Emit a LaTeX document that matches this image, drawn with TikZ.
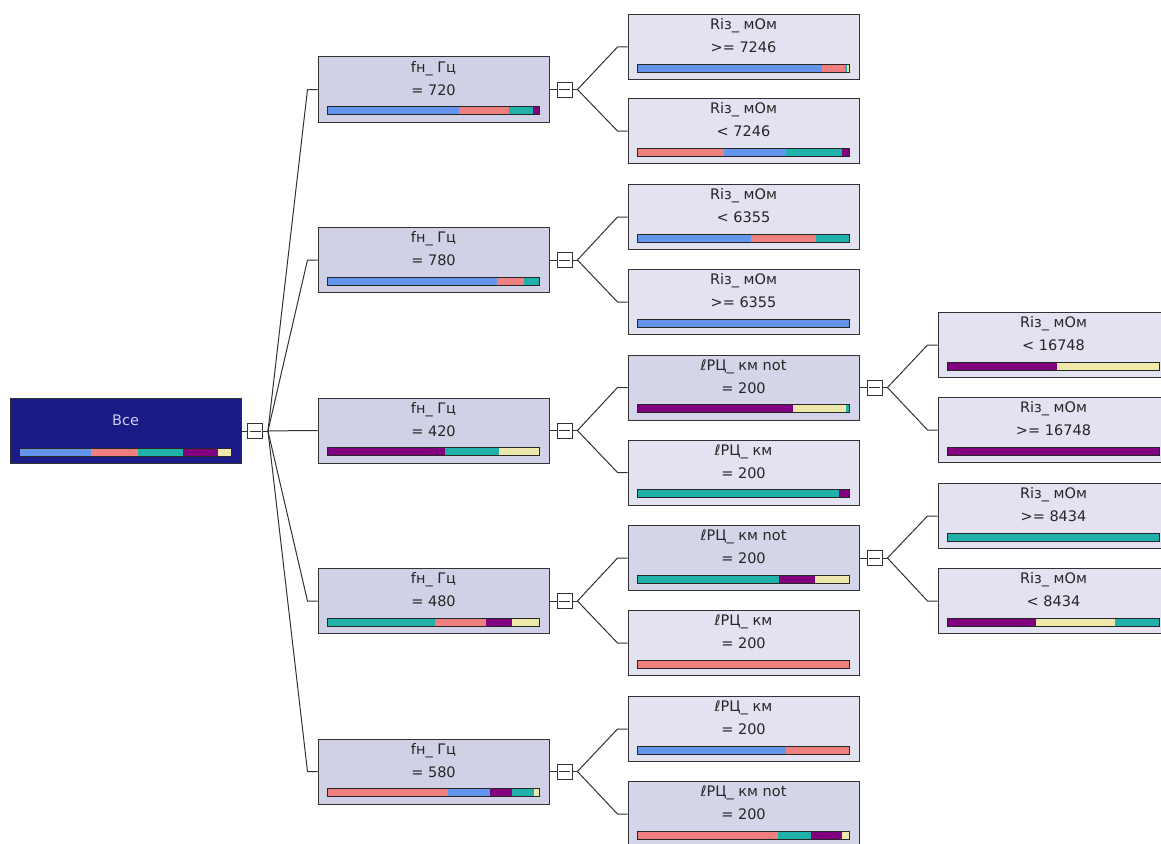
\documentclass[tikz,border=0pt]{standalone}
\usepackage{fontspec}
\setmainfont{DejaVu Sans}
\usepackage{tikz}
\usetikzlibrary{positioning}
\usetikzlibrary{calc}

\definecolor{rootfill}{RGB}{27,27,135}
\definecolor{splitfill}{RGB}{208,208,231}
\definecolor{midfill}{RGB}{213,213,234}
\definecolor{leaffill}{RGB}{226,226,241}
\definecolor{cblue}{RGB}{100,149,237}
\definecolor{csalmon}{RGB}{240,128,128}
\definecolor{cteal}{RGB}{32,178,170}
\definecolor{cpurple}{RGB}{128,0,128}
\definecolor{cyellow}{RGB}{238,232,170}
\definecolor{edgegray}{RGB}{50,50,50}

\tikzset{box/.style = {draw = edgegray, line width = 1pt, minimum width = 231pt, minimum height = 65pt, inner sep = 0}}
\tikzset{toggle/.style = {draw = edgegray, fill = white, line width = 0.9pt, minimum size = 15pt, inner sep = 0,
    path picture = {\draw [edgegray, line width = 0.9pt] ([xshift = 2pt]path picture bounding box.west) -- ([xshift = -2pt]path picture bounding box.east);}}}
\tikzset{link/.style = {draw = edgegray, line width = 1pt}}
\tikzset{barframe/.style = {draw = black!85, line width = 0.9pt}}
\tikzset{txt/.style = {inner sep = 0, text = black!85}}

% name, fill, centre, first line, second line, bar segments colour/from/to
\newcommand{\treenode}[6]{%
  \node [box, fill = #2] (#1) at (#3) {};
  \node [txt] (#1-a) at ([yshift = -12pt]#1.north) {#4};
  \node [txt] (#1-b) at ([yshift = -33.5pt]#1.north) {#5};
  \foreach \col/\from/\upto in {#6}
    \fill [\col] ([xshift = {10pt+2.11pt*\from}, yshift = 8pt]#1.south west)
      rectangle ([xshift = {10pt+2.11pt*\upto}, yshift = 16pt]#1.south west);
  \draw [barframe] ([xshift = 10pt, yshift = 8pt]#1.south west) rectangle ([xshift = -10pt, yshift = 16pt]#1.south east);
}
% toggle, fan point, children
\newcommand{\fanout}[3]{%
  \coordinate (#2) at ([xshift = 5pt]#1.east);
  \draw [link] (#1) -- (#2);
  \foreach \c in {#3}
    \draw [link] (#2) -- ([xshift = -10pt]\c.west) -- (\c.west);
}

\begin{document}
\begin{tikzpicture}[x = 1pt, y = -1pt, font = \fontsize{14.5}{17}\selectfont]
      \clip (0, 0) rectangle (1161, 843);
      \fill [white] (0, 0) rectangle (1161, 843);

      % root
      \node [box, fill = rootfill] (root) at (125.5, 431) {};
      \node [txt, text = {rgb,255:red,205;green,205;blue,240}] (root-a) at ([yshift = -22.5pt]root.north) {Все};
      \foreach \col/\from/\upto in {cblue/0/34, csalmon/34/56, cteal/56/77.5, cpurple/77.5/94, cyellow/94/100}
        \fill [\col] ([xshift = {10pt+2.11pt*\from}, yshift = 8pt]root.south west)
          rectangle ([xshift = {10pt+2.11pt*\upto}, yshift = 16pt]root.south west);
      \draw [barframe] ([xshift = 10pt, yshift = 8pt]root.south west) rectangle ([xshift = -10pt, yshift = 16pt]root.south east);

      % first split
      \treenode{f720}{splitfill}{433.5, 89.5}{fн\_ Гц}{= 720}{cblue/0/62.5, csalmon/62.5/86, cteal/86/97.5, cpurple/97.5/100}
      \treenode{f780}{splitfill}{433.5, 260}{fн\_ Гц}{= 780}{cblue/0/80.5, csalmon/80.5/93, cteal/93/100}
      \treenode{f420}{splitfill}{433.5, 430.5}{fн\_ Гц}{= 420}{cpurple/0/55.5, cteal/55.5/81.5, cyellow/81.5/100}
      \treenode{f480}{splitfill}{433.5, 601}{fн\_ Гц}{= 480}{cteal/0/51, csalmon/51/75, cpurple/75/87.5, cyellow/87.5/100}
      \treenode{f580}{splitfill}{433.5, 771.5}{fн\_ Гц}{= 580}{csalmon/0/57, cblue/57/77, cpurple/77/87.5, cteal/87.5/98, cyellow/98/100}

      % second split
      \treenode{r7246hi}{leaffill}{743.5, 47}{Rіз\_ мОм}{>= 7246}{cblue/0/87.5, csalmon/87.5/98.5, cteal/98.5/99.3, cyellow/99.3/100}
      \treenode{r7246lo}{leaffill}{743.5, 131}{Rіз\_ мОм}{< 7246}{csalmon/0/41, cblue/41/70.5, cteal/70.5/97, cpurple/97/100}
      \treenode{r6355lo}{leaffill}{743.5, 217}{Rіз\_ мОм}{< 6355}{cblue/0/54, csalmon/54/84.5, cteal/84.5/100}
      \treenode{r6355hi}{leaffill}{743.5, 302}{Rіз\_ мОм}{>= 6355}{cblue/0/100}
      \treenode{l420not}{midfill}{743.5, 387.5}{ℓРЦ\_ км not}{= 200}{cpurple/0/73.5, cyellow/73.5/99, cteal/99/100}
      \treenode{l420eq}{leaffill}{743.5, 472.5}{ℓРЦ\_ км}{= 200}{cteal/0/95.5, cpurple/95.5/100}
      \treenode{l480not}{midfill}{743.5, 558}{ℓРЦ\_ км not}{= 200}{cteal/0/67, cpurple/67/84, cyellow/84/100}
      \treenode{l480eq}{leaffill}{743.5, 643}{ℓРЦ\_ км}{= 200}{csalmon/0/100}
      \treenode{l580eq}{leaffill}{743.5, 729}{ℓРЦ\_ км}{= 200}{cblue/0/70.5, csalmon/70.5/100}
      \treenode{l580not}{midfill}{743.5, 814}{ℓРЦ\_ км not}{= 200}{csalmon/0/66.5, cteal/66.5/82, cpurple/82/97, cyellow/97/100}

      % third split
      \treenode{r16748lo}{leaffill}{1053.5, 345}{Rіз\_ мОм}{< 16748}{cpurple/0/52, cyellow/52/100}
      \treenode{r16748hi}{leaffill}{1053.5, 430}{Rіз\_ мОм}{>= 16748}{cpurple/0/100}
      \treenode{r8434hi}{leaffill}{1053.5, 516}{Rіз\_ мОм}{>= 8434}{cteal/0/100}
      \treenode{r8434lo}{leaffill}{1053.5, 601}{Rіз\_ мОм}{< 8434}{cpurple/0/42, cyellow/42/79.5, cteal/79.5/100}

      % toggles and connectors
      \node [toggle] (t-root) at (255, 431) {};
      \draw [link] (root) -- (t-root);
      \fanout{t-root}{fan-root}{f720, f780, f420, f480, f580}

      \node [toggle] (t-720) at (564.5, 89.5) {};
      \draw [link] (f720) -- (t-720);
      \fanout{t-720}{fan-720}{r7246hi, r7246lo}

      \node [toggle] (t-780) at (564.5, 260) {};
      \draw [link] (f780) -- (t-780);
      \fanout{t-780}{fan-780}{r6355lo, r6355hi}

      \node [toggle] (t-420) at (564.5, 430.5) {};
      \draw [link] (f420) -- (t-420);
      \fanout{t-420}{fan-420}{l420not, l420eq}

      \node [toggle] (t-480) at (564.5, 601) {};
      \draw [link] (f480) -- (t-480);
      \fanout{t-480}{fan-480}{l480not, l480eq}

      \node [toggle] (t-580) at (564.5, 771.5) {};
      \draw [link] (f580) -- (t-580);
      \fanout{t-580}{fan-580}{l580eq, l580not}

      \node [toggle] (t-l420) at (874.5, 387.5) {};
      \draw [link] (l420not) -- (t-l420);
      \fanout{t-l420}{fan-l420}{r16748lo, r16748hi}

      \node [toggle] (t-l480) at (874.5, 558) {};
      \draw [link] (l480not) -- (t-l480);
      \fanout{t-l480}{fan-l480}{r8434hi, r8434lo}
    \end{tikzpicture}
\end{document}
